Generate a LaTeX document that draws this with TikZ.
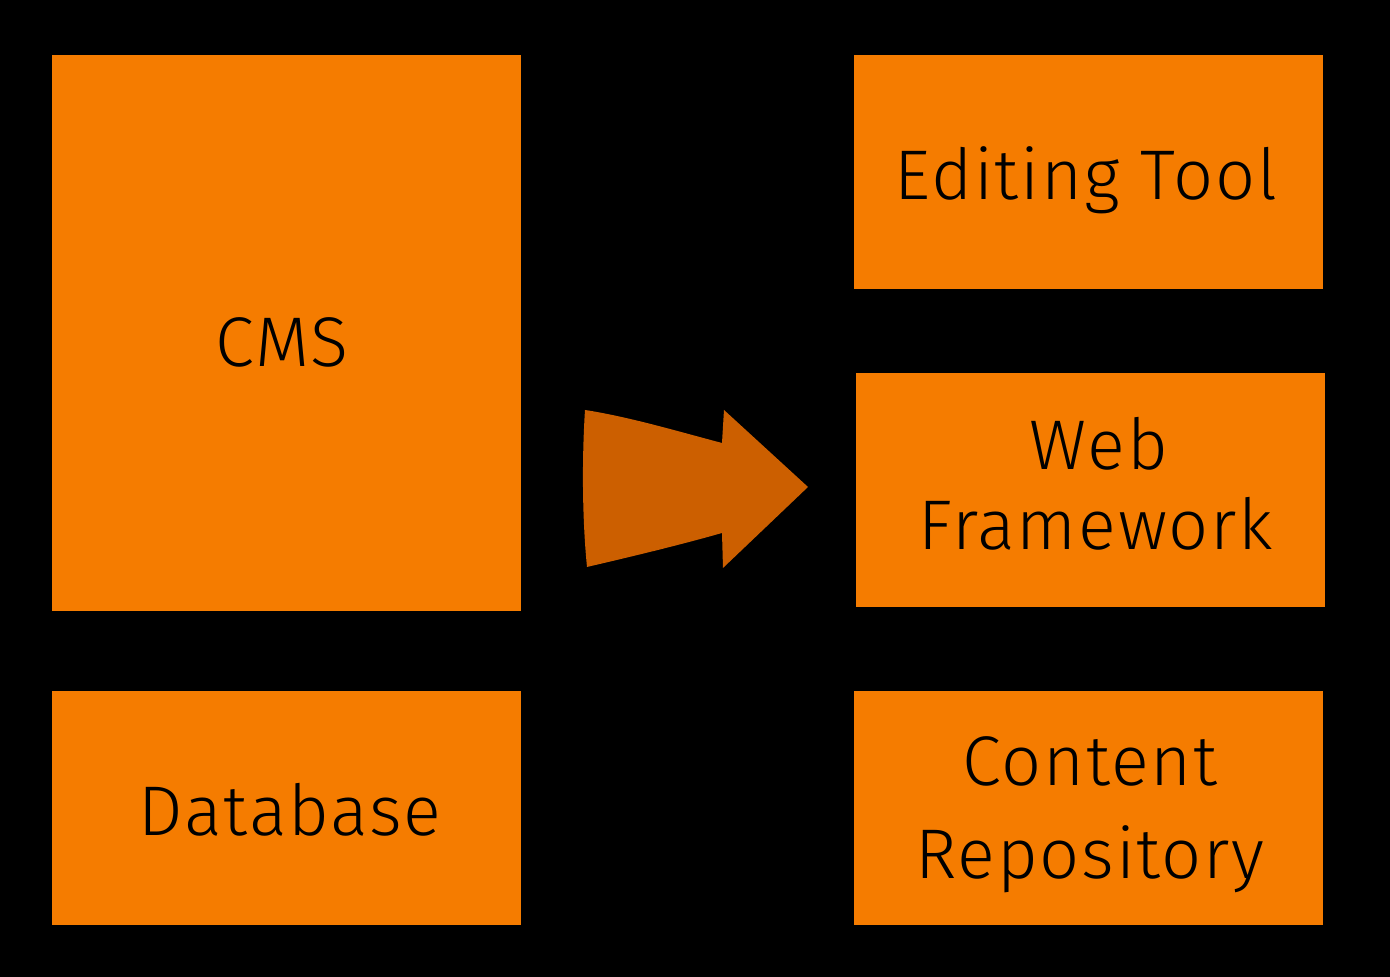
\documentclass[tikz,border=0pt]{standalone}
\usepackage{fontspec}
\setmainfont{Fira Sans Light}[LetterSpace=2.5]
\definecolor{boxorange}{HTML}{F57C00}
\definecolor{arroworange}{HTML}{CC5F00}
\tikzset{
    part/.style={fill=boxorange, inner sep=0pt,
        minimum width=4.69cm, minimum height=2.34cm},
    tag/.style={anchor=base, inner sep=0pt,
        font=\fontsize{20}{24}\selectfont}
}
\begin{document}
\begin{tikzpicture}
    \fill[black] (0,0) rectangle (13.9,9.77);
    \useasboundingbox (0,0) rectangle (13.9,9.77);
    % left column
    \node[part, minimum height=5.56cm] (cms) at (2.865,6.44) {};
    \node[part] (db) at (2.865,1.69) {};
    \node[tag] (cmstext) at (2.82,6.10) {CMS};
    \node[tag] (dbtext) at (2.90,1.41) {Database};
    % right column
    \node[part] (edit) at (10.885,8.05) {};
    \node[part] (web) at (10.905,4.87) {};
    \node[part] (repo) at (10.885,1.69) {};
    \node[tag] (edittext) at (10.86,7.77) {Editing Tool};
    \node[tag] (webtext) at (10.99,5.07) {Web};
    \node[tag] (frametext) at (10.96,4.27) {Framework};
    \node[tag] (contenttext) at (10.90,1.91) {Content};
    \node[tag] (repotext) at (10.90,0.98) {Repository};
    % big arrow
    \fill[arroworange] (5.85,5.67) .. controls (6.3,5.6) and (6.8,5.45) .. (7.22,5.34)
        -- (7.24,5.67) -- (8.08,4.90) -- (7.23,4.09) -- (7.22,4.44)
        .. controls (6.8,4.32) and (6.3,4.2) .. (5.87,4.10)
        .. controls (5.82,4.6) and (5.82,5.2) .. cycle;
\end{tikzpicture}
\end{document}
